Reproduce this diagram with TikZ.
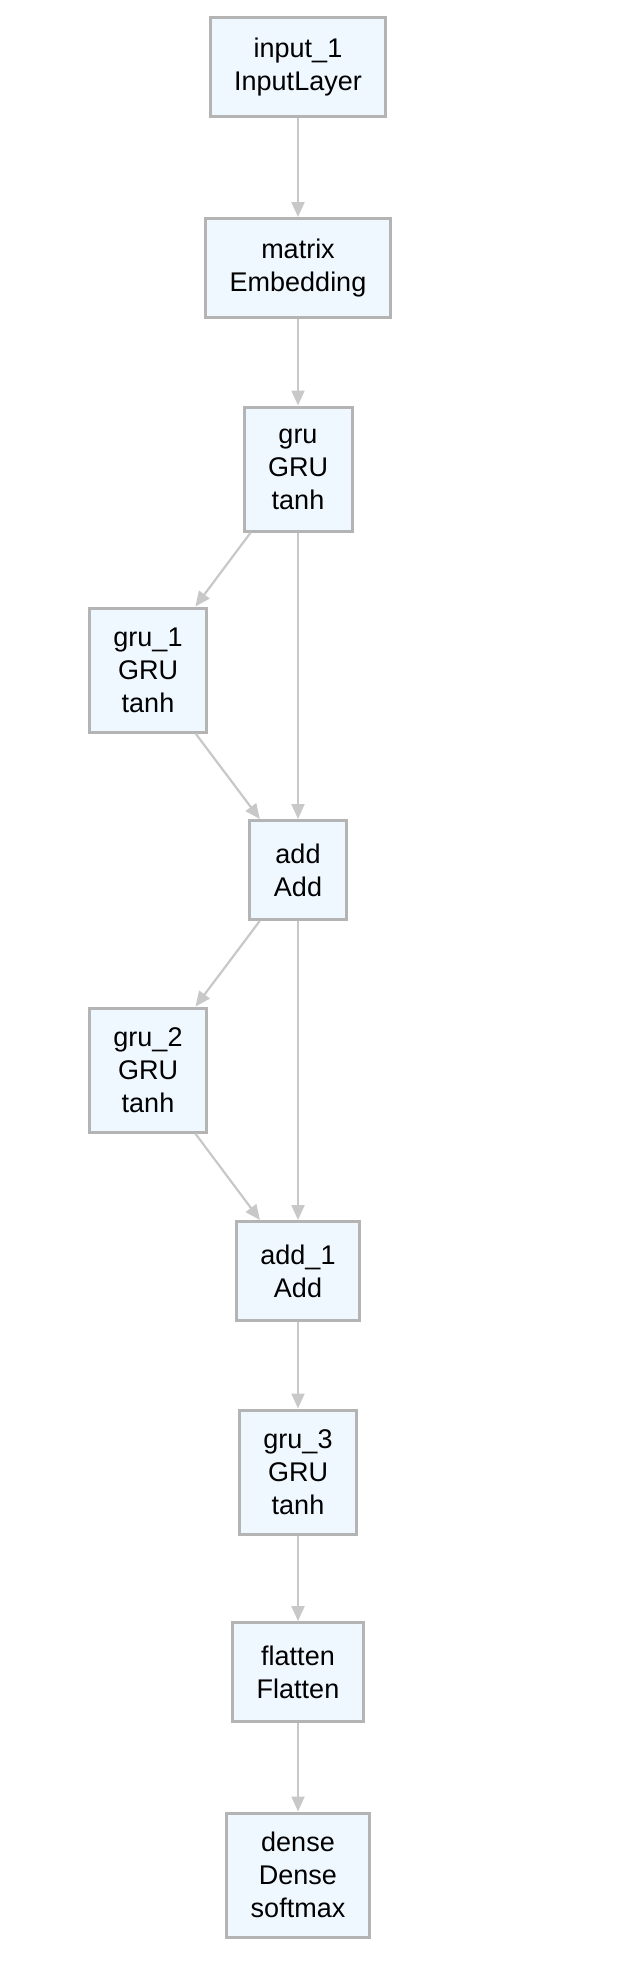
\documentclass[tikz,border=0pt]{standalone}
\usepackage{fontspec}
\setmainfont{Liberation Sans}
\usetikzlibrary{arrows.meta}
\definecolor{layerfill}{HTML}{F0F8FF}
\definecolor{layerdraw}{HTML}{B4B4B4}
\definecolor{edgegray}{HTML}{C8C8C8}
\tikzset{%
      layer/.style={draw=layerdraw, line width=3pt, fill=layerfill, align=center, inner xsep=24pt, minimum height=99pt, font=\fontsize{27}{33}\selectfont},
      layerthree/.style={layer, minimum height=124pt},
      line/.style={draw, edgegray, line width=2.2pt, -{Triangle[length=15pt, width=13pt]}},
    }
\newcommand{\layer}[2]{node (#1) [layer] {#2}}
\newcommand{\layerthree}[2]{node (#1) [layerthree] {#2}}

\begin{document}
\begin{tikzpicture}[x=1pt, y=-1pt]
      \useasboundingbox (0,0) rectangle (630,1965);

      % Draw diagram elements
      \path (298,67) \layer{input1}{input\_1\\InputLayer};
      \path (298,268) \layer{matrix}{matrix\\Embedding};
      \path (298,469) \layerthree{gru}{gru\\GRU\\tanh};
      \path (148,670) \layerthree{gru1}{gru\_1\\GRU\\tanh};
      \path (298,870) \layer{add}{add\\Add};
      \path (148,1070) \layerthree{gru2}{gru\_2\\GRU\\tanh};
      \path (298,1271) \layer{add1}{add\_1\\Add};
      \path (298,1472) \layerthree{gru3}{gru\_3\\GRU\\tanh};
      \path (298,1672) \layer{flatten}{flatten\\Flatten};
      \path (298,1875) \layerthree{dense}{dense\\Dense\\softmax};

      % Draw arrows between elements
      \path [line] (input1) -- (matrix);
      \path [line] (matrix) -- (gru);
      \path [line] (gru) -- (gru1);
      \path [line] (gru) -- (add);
      \path [line] (gru1) -- (add);
      \path [line] (add) -- (gru2);
      \path [line] (add) -- (add1);
      \path [line] (gru2) -- (add1);
      \path [line] (add1) -- (gru3);
      \path [line] (gru3) -- (flatten);
      \path [line] (flatten) -- (dense);

    \end{tikzpicture}
\end{document}
